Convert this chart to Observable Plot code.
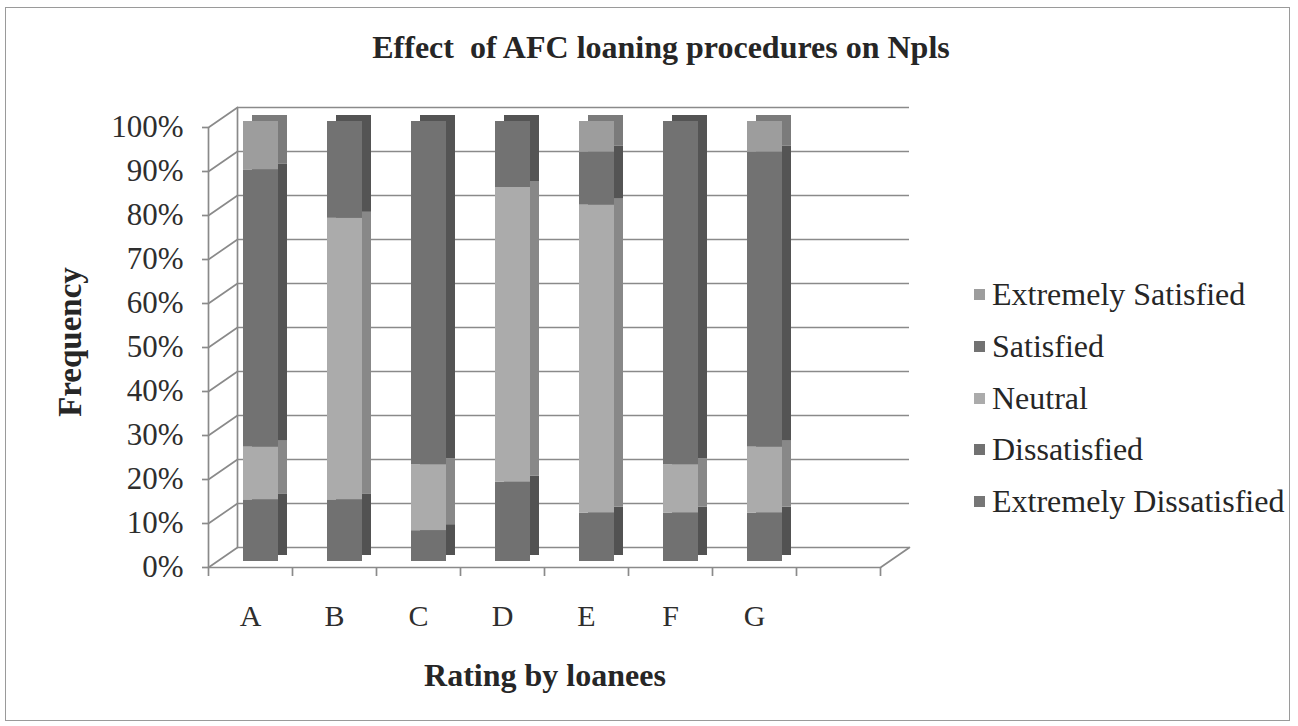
<!DOCTYPE html>
<html><head><meta charset="utf-8">
<script src="https://cdn.jsdelivr.net/npm/d3@7"></script>
<script src="https://cdn.jsdelivr.net/npm/@observablehq/plot@0.6"></script>
<style>
html,body{margin:0;padding:0;background:#fff;}
#wrap{position:relative;width:1298px;height:726px;overflow:hidden;font-family:"Liberation Serif","Times New Roman",serif;color:#262626;}
#border{position:absolute;left:5px;top:7px;width:1285px;height:714px;border:1.5px solid #9a9a9a;box-sizing:border-box;}
#chart{position:absolute;left:0;top:0;}
.lbl{position:absolute;white-space:nowrap;transform:translate(-50%,-50%);font-weight:bold;}
#title{left:661px;top:47px;font-size:32px;}
#ytitle{left:70px;top:342px;font-size:33px;transform:translate(-50%,-50%) rotate(-90deg);}
#xtitle{left:545px;top:675px;font-size:32px;}
#legend{position:absolute;left:974px;top:269px;}
.row{height:51.7px;display:flex;align-items:center;font-size:32px;}
.sw{width:11px;height:11px;margin-right:7px;}
</style>
</head><body>
<div id="wrap">
  <div id="border"></div>
  <div id="chart"></div>
  <div id="title" class="lbl">Effect&nbsp; of AFC loaning procedures on Npls</div>
  <div id="ytitle" class="lbl">Frequency</div>
  <div id="xtitle" class="lbl">Rating by loanees</div>
  <div id="legend"></div>
</div>
<script>
// ---- data ----
const categories = ["A", "B", "C", "D", "E", "F", "G"];
const slotCount = 8; // the category axis has one empty slot after G
const levels = ["Extremely Dissatisfied", "Dissatisfied", "Neutral", "Satisfied", "Extremely Satisfied"];
const extremelyDissatisfied = [0, 0, 0, 0, 0, 0, 0];
const dissatisfied          = [14, 14, 7, 18, 11, 11, 11];
const neutral               = [12, 64, 15, 67, 70, 11, 15];
const satisfied             = [63, 22, 78, 15, 12, 78, 67];
const extremelySatisfied    = [11, 0, 0, 0, 7, 0, 7];
const yTicks = [0, 10, 20, 30, 40, 50, 60, 70, 80, 90, 100];
const yTickLabels = ["0%", "10%", "20%", "30%", "40%", "50%", "60%", "70%", "80%", "90%", "100%"];
const legendOrder = ["Extremely Satisfied", "Satisfied", "Neutral", "Dissatisfied", "Extremely Dissatisfied"];

// ---- styles ----
const frontColors = {
  "Extremely Dissatisfied": "#767676",
  "Dissatisfied": "#717171",
  "Neutral": "#ababab",
  "Satisfied": "#727272",
  "Extremely Satisfied": "#9d9d9d"
};
const sideColors = {
  "Extremely Dissatisfied": "#555555",
  "Dissatisfied": "#525252",
  "Neutral": "#888888",
  "Satisfied": "#545454",
  "Extremely Satisfied": "#7b7b7b"
};
const gridColor = "#8a8a8a";
const serif = "'Liberation Serif', 'Times New Roman', serif";

const series = [extremelyDissatisfied, dissatisfied, neutral, satisfied, extremelySatisfied];
const table = [];
categories.forEach((c, i) => {
  levels.forEach((lv, k) => table.push({cat: c, idx: i, level: lv, value: series[k][i]}));
});
const bounds = d3.range(slotCount + 1);

const lineShape = {draw(context, l) { context.moveTo(0, 0); context.lineTo(0, -l); }};
const depth = {length: 35.2, rotate: 55.4};

const chart = Plot.plot({
  width: 940,
  height: 726,
  marginLeft: 208,
  marginRight: 60,
  marginTop: 127,
  marginBottom: 159,
  style: {fontFamily: serif, background: "transparent"},
  x: {domain: [0, slotCount], axis: null, label: null},
  y: {domain: [0, 100], axis: null, label: null},
  color: {type: "identity"},
  marks: [
    // back wall gridlines
    Plot.ruleY(yTicks, {dx: 29, dy: -20, stroke: gridColor, strokeWidth: 1.7}),
    Plot.ruleX([0], {y1: 0, y2: 100, dx: 29, dy: -20, stroke: gridColor, strokeWidth: 1.7}),
    // left wall + floor diagonals
    Plot.vector(yTicks, {x: 0, y: d => d, length: depth.length, rotate: depth.rotate, anchor: "start", shape: lineShape, stroke: gridColor, strokeWidth: 1.7}),
    Plot.vector([0], {x: slotCount, y: 0, length: depth.length, rotate: depth.rotate, anchor: "start", shape: lineShape, stroke: gridColor, strokeWidth: 1.7}),
    // bar side/top faces
    Plot.rectY(table, {x: "idx", interval: 1, y: "value", z: "level", fill: d => sideColors[d.level], insetLeft: 35, insetRight: 14, dx: 9, dy: -12}),
    // bar front faces
    Plot.rectY(table, {x: "idx", interval: 1, y: "value", z: "level", fill: d => frontColors[d.level], insetLeft: 35, insetRight: 14, dy: -6}),
    // front floor edge and left axis
    Plot.ruleY([0], {stroke: gridColor, strokeWidth: 1.7}),
    Plot.ruleX([0], {y1: 0, y2: 100, stroke: gridColor, strokeWidth: 1.7}),
    Plot.axisY({ticks: yTicks, label: null, tickFormat: d => yTickLabels[yTicks.indexOf(d)], tickSize: 6, tickPadding: 19, stroke: gridColor, fill: "#2e2e2e", fontSize: 31, fontFamily: serif, strokeWidth: 1.7}),
    Plot.axisX({ticks: bounds, label: null, tickFormat: () => "", tickSize: 9, stroke: gridColor, strokeWidth: 1.7}),
    Plot.text(categories, {x: (d, i) => i + 0.5, y: 0, text: d => d, dy: 49, fontSize: 30, fontFamily: serif, fill: "#2e2e2e"})
  ]
});
document.getElementById("chart").appendChild(chart);

const legend = document.getElementById("legend");
legendOrder.forEach(lv => {
  const row = document.createElement("div");
  row.className = "row";
  row.innerHTML = `<div class="sw" style="background:${frontColors[lv]}"></div><span>${lv}</span>`;
  legend.appendChild(row);
});
</script>
</body></html>
